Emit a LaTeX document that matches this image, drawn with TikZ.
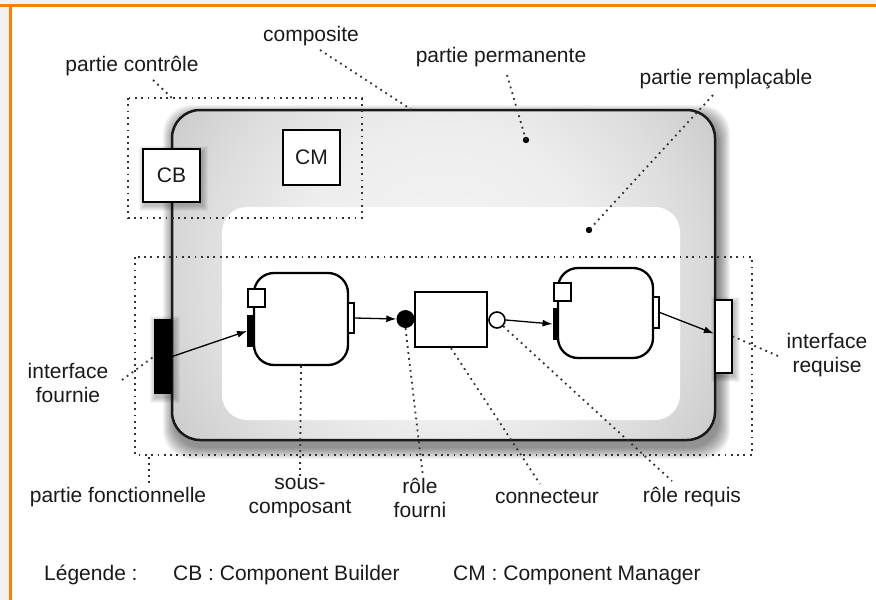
\documentclass[tikz,border=0pt]{standalone}
\usepackage{fontspec}
\setmainfont{Liberation Sans}
\usetikzlibrary{arrows.meta}
\definecolor{orangeb}{HTML}{FF8000}
\definecolor{outbg}{HTML}{F2F2F2}
\definecolor{ink}{HTML}{1A1A1A}
\pgfdeclareradialshading{compshade}{\pgfpoint{0bp}{0bp}}{color(0bp)=(black!4); color(14bp)=(black!7); color(22bp)=(black!13); color(30bp)=(black!21); color(36bp)=(black!27); color(50bp)=(black!32)}
\begin{document}
\begin{tikzpicture}[x=1pt,y=-1pt,
  lbl/.style={text=ink, font=\fontsize{21}{24}\selectfont, align=center, inner sep=0pt},
  leader/.style={draw=black!80, line width=1.8pt, dash pattern=on 1.8pt off 4.2pt},
  zone/.style={draw=black!80, line width=1.8pt, dash pattern=on 1.8pt off 4.5pt},
  box/.style={draw=black, line width=2.3pt, fill=white, inner sep=0pt},
  arr/.style={-{Latex[length=10pt,width=7pt]}, line width=1.3pt},
  shd/.style={fill=black, opacity=0.045}]
\useasboundingbox (0,0) rectangle (876,600);
% page background and orange frame
\fill[outbg] (0,0) rectangle (876,600);
\fill[white] (10,5) rectangle (876,600);
\fill[orangeb] (0,4) rectangle (876,7.3);
\fill[orangeb] (8.5,4) rectangle (11.8,600);

% shadow of composite
\foreach \k in {1,...,12}
  \fill[shd, rounded corners=28pt] (172-\k+3,110-\k+7) rectangle (715+\k+3,440+\k+7);
% composite (partie permanente): shaded fill
\begin{scope}
  \clip[rounded corners=28pt] (172,110) rectangle (715,440);
  \shade[shading=compshade] (172,10) rectangle (715,540);
\end{scope}
\node[draw=black!90, line width=2.5pt, rounded corners=28pt,
      minimum width=543pt, minimum height=330pt, inner sep=0pt] (comp) at (443.5,275) {};
% partie remplacable
\node[fill=white, rounded corners=25pt, minimum width=458pt, minimum height=213pt, inner sep=0pt]
      (repl) at (451,313.5) {};

% dotted zones
\draw[zone] (128,98) rectangle (362,218);
\draw[zone] (135,257) rectangle (752,455);

% shadows of border elements
\foreach \k in {1,...,6} {
  \fill[shd] (143-\k+2,149-\k+3) rectangle (200+\k+2,202+\k+3);
  \fill[shd] (154-\k+2,319-\k+3) rectangle (172+\k+2,394+\k+3);
  \fill[shd] (715-\k+2,300-\k+3) rectangle (732+\k+2,373+\k+3);
}

% CB, CM
\node[box, minimum width=57pt, minimum height=53pt, font=\fontsize{21}{24}\selectfont, text=ink] (cb) at (171.5,175.5) {CB};
\node[box, minimum width=57pt, minimum height=55pt, font=\fontsize{21}{24}\selectfont, text=ink] (cm) at (311.5,157.5) {CM};

% interfaces of composite
\node[fill=black, minimum width=18pt, minimum height=75pt, inner sep=0pt] (blk) at (163,356.5) {};
\node[box, minimum width=17pt, minimum height=73pt] (wb) at (723.5,336.5) {};

% sub-component 1
\node[box, rounded corners=20pt, minimum width=94pt, minimum height=92pt] (s1) at (301,319) {};
\node[box, line width=1.6pt, minimum width=17pt, minimum height=18pt] (sq1) at (256.5,298) {};
\node[fill=black, minimum width=7.5pt, minimum height=32pt, inner sep=0pt] (bar1) at (251,331) {};
\node[box, line width=1.6pt, minimum width=6pt, minimum height=30pt] (r1) at (351,318) {};

% connector
\node[circle, fill=black, minimum size=18pt, inner sep=0pt] (fc) at (405.5,319) {};
\node[box, minimum width=72pt, minimum height=55pt] (cbox) at (451,319.5) {};
\node[circle, draw=black, line width=1.6pt, fill=white, minimum size=16pt, inner sep=0pt] (oc) at (497,320) {};

% sub-component 2
\node[box, rounded corners=20pt, minimum width=95pt, minimum height=90pt] (s2) at (605.5,313) {};
\node[box, line width=1.6pt, minimum width=17pt, minimum height=18pt] (sq2) at (562.5,292) {};
\node[fill=black, minimum width=6.5pt, minimum height=32pt, inner sep=0pt] (bar2) at (556,324) {};
\node[box, line width=1.6pt, minimum width=6pt, minimum height=31pt] (r2) at (656,312.5) {};

% arrows
\draw[arr] (blk.east) -- (bar1.west);
\draw[arr] (r1.east) -- (fc.west);
\draw[arr] (oc.east) -- (bar2.west);
\draw[arr] (r2.east) -- ([yshift=3pt]wb.west);

% labels
\node[lbl] (tpc) at (132,66) {partie contrôle};
\node[lbl] (tcomp) at (311,36) {composite};
\node[lbl] (tpp) at (501,57) {partie permanente};
\node[lbl] (tpr) at (726,79) {partie remplaçable};
\node[lbl] (tif) at (68,383) {interface\\fournie};
\node[lbl] (tir) at (827,355) {interface\\requise};
\node[lbl] (tpf) at (118,497) {partie fonctionnelle};
\node[lbl] (tsc) at (300,498) {sous-\\composant};
\node[lbl] (trf) at (420,498) {rôle\\fourni};
\node[lbl] (tcn) at (547,497) {connecteur};
\node[lbl] (trr) at (692,497) {rôle requis};
\node[lbl, anchor=west] (tleg) at (44,575) {Légende :};
\node[lbl, anchor=west] (tcb) at (173,575) {CB : Component Builder};
\node[lbl, anchor=west] (tcm) at (453,575) {CM : Component Manager};

% leader points
\coordinate (ppdot) at (526,140);
\coordinate (prdot) at (589,230);
\fill (ppdot) circle (3.2pt);
\fill (prdot) circle (3.2pt);
\coordinate (pcA) at (153,80);   \coordinate (pcB) at (172,98);
\coordinate (coA) at (320,50);   \coordinate (coB) at (412,110);
\coordinate (ppA) at (507,75);
\coordinate (prA) at (713,95);
\coordinate (ifA) at (122,380);
\coordinate (irA) at (778,356);
\coordinate (pfA) at (149,457);  \coordinate (pfB) at (149,485);
\coordinate (scB) at (300,476);
\coordinate (rfB) at (423,477);
\coordinate (cnB) at (540,484);
\coordinate (rrB) at (672,481);

\draw[leader] (pcA) -- (pcB);
\draw[leader] (coA) -- (coB);
\draw[leader] (ppA) -- (ppdot);
\draw[leader] (prA) -- (prdot);
\draw[leader] (ifA) -- (blk.west);
\draw[leader] (irA) -- (wb.east);
\draw[leader] (pfA) -- (pfB);
\draw[leader] (s1.south) -- (scB);
\draw[leader] (fc.south) -- (rfB);
\draw[leader] (cbox.south) -- (cnB);
\draw[leader] (oc.south east) -- (rrB);
\end{tikzpicture}
\end{document}
